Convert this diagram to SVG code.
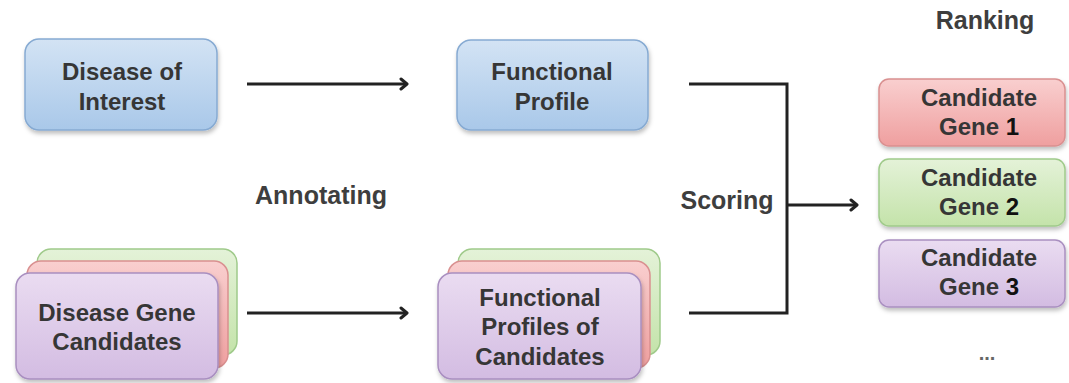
<svg xmlns="http://www.w3.org/2000/svg" width="1069" height="383" viewBox="0 0 1069 383">
<style>
.t{font-family:"Liberation Sans",Arial,sans-serif;font-weight:bold;font-size:24px;fill:#363636;text-anchor:middle}
.lbl{font-family:"Liberation Sans",Arial,sans-serif;font-weight:bold;font-size:25px;fill:#3e3e3e;text-anchor:middle}
.n{fill:#111}
.blue{fill:url(#gb);stroke:#86aad2;stroke-width:1.5}
.purple{fill:url(#gp);stroke:#a98fc0;stroke-width:1.5}
.red{fill:url(#gr);stroke:#d99090;stroke-width:1.5}
.green{fill:url(#gg);stroke:#9fca8a;stroke-width:1.5}
.conn{fill:none;stroke:#222;stroke-width:3}
</style>
<defs>
<linearGradient id="gb" x1="0" y1="0" x2="0" y2="1"><stop offset="0" stop-color="#d3e3f4"/><stop offset="1" stop-color="#a9c8e9"/></linearGradient>
<linearGradient id="gp" x1="0" y1="0" x2="0" y2="1"><stop offset="0" stop-color="#eadcf1"/><stop offset="1" stop-color="#d3bce2"/></linearGradient>
<linearGradient id="gr" x1="0" y1="0" x2="0" y2="1"><stop offset="0" stop-color="#f9cfcf"/><stop offset="1" stop-color="#ef9f9f"/></linearGradient>
<linearGradient id="gg" x1="0" y1="0" x2="0" y2="1"><stop offset="0" stop-color="#e4f2d8"/><stop offset="1" stop-color="#c4e3aa"/></linearGradient>
<filter id="sh" x="-10%" y="-10%" width="130%" height="140%"><feDropShadow dx="1" dy="3" stdDeviation="2" flood-color="#000" flood-opacity="0.25"/></filter>
<marker id="ah" markerWidth="12" markerHeight="14" refX="9" refY="7" orient="auto" markerUnits="userSpaceOnUse"><path d="M3,2 L9,7 L3,12" fill="none" stroke="#222" stroke-width="3" stroke-linecap="round" stroke-linejoin="round"/></marker>
</defs>

<g id="disease-of-interest">
<rect class="blue" filter="url(#sh)" x="25" y="39" width="192" height="91" rx="14"/>
<text class="t" x="122" y="80">Disease of</text>
<text class="t" x="122" y="110">Interest</text>
</g>

<g id="functional-profile">
<rect class="blue" filter="url(#sh)" x="457" y="40" width="191" height="90" rx="14"/>
<text class="t" x="552" y="80">Functional</text>
<text class="t" x="552" y="110">Profile</text>
</g>

<g id="disease-gene-candidates">
<rect class="green" x="37" y="249" width="200" height="106" rx="14"/>
<rect class="red" x="27" y="261" width="201" height="107" rx="14"/>
<rect class="purple" filter="url(#sh)" x="16" y="273" width="202" height="106" rx="14"/>
<text class="t" x="117" y="321">Disease Gene</text>
<text class="t" x="117" y="350">Candidates</text>
</g>

<g id="functional-profiles-of-candidates">
<rect class="green" x="458" y="249" width="202" height="106" rx="14"/>
<rect class="red" x="448" y="261" width="202" height="107" rx="14"/>
<rect class="purple" filter="url(#sh)" x="438" y="273" width="203" height="106" rx="14"/>
<text class="t" x="540" y="306">Functional</text>
<text class="t" x="540" y="335">Profiles of</text>
<text class="t" x="540" y="365">Candidates</text>
</g>

<g id="candidate-gene-1">
<rect class="red" filter="url(#sh)" x="879" y="79" width="186" height="67" rx="10"/>
<text class="t" x="979" y="106">Candidate</text>
<text class="t" x="979" y="135">Gene <tspan class="n">1</tspan></text>
</g>

<g id="candidate-gene-2">
<rect class="green" filter="url(#sh)" x="879" y="159" width="186" height="67" rx="10"/>
<text class="t" x="979" y="186">Candidate</text>
<text class="t" x="979" y="215">Gene <tspan class="n">2</tspan></text>
</g>

<g id="candidate-gene-3">
<rect class="purple" filter="url(#sh)" x="879" y="240" width="186" height="67" rx="10"/>
<text class="t" x="979" y="266">Candidate</text>
<text class="t" x="979" y="295">Gene <tspan class="n">3</tspan></text>
</g>

<g id="labels">
<text class="lbl" x="321" y="204">Annotating</text>
<text class="lbl" x="727" y="209">Scoring</text>
<text class="lbl" x="985" y="29">Ranking</text>
<text class="lbl" x="987" y="360" style="font-size:20px;fill:#666">...</text>
</g>

<g id="connectors">
<line class="conn" x1="247" y1="84" x2="407" y2="84" marker-end="url(#ah)"/>
<line class="conn" x1="247" y1="313" x2="407" y2="313" marker-end="url(#ah)"/>
<polyline class="conn" points="689,84 787,84 787,313 689,313"/>
<line class="conn" x1="787" y1="205" x2="857" y2="205" marker-end="url(#ah)"/>
</g>
</svg>
